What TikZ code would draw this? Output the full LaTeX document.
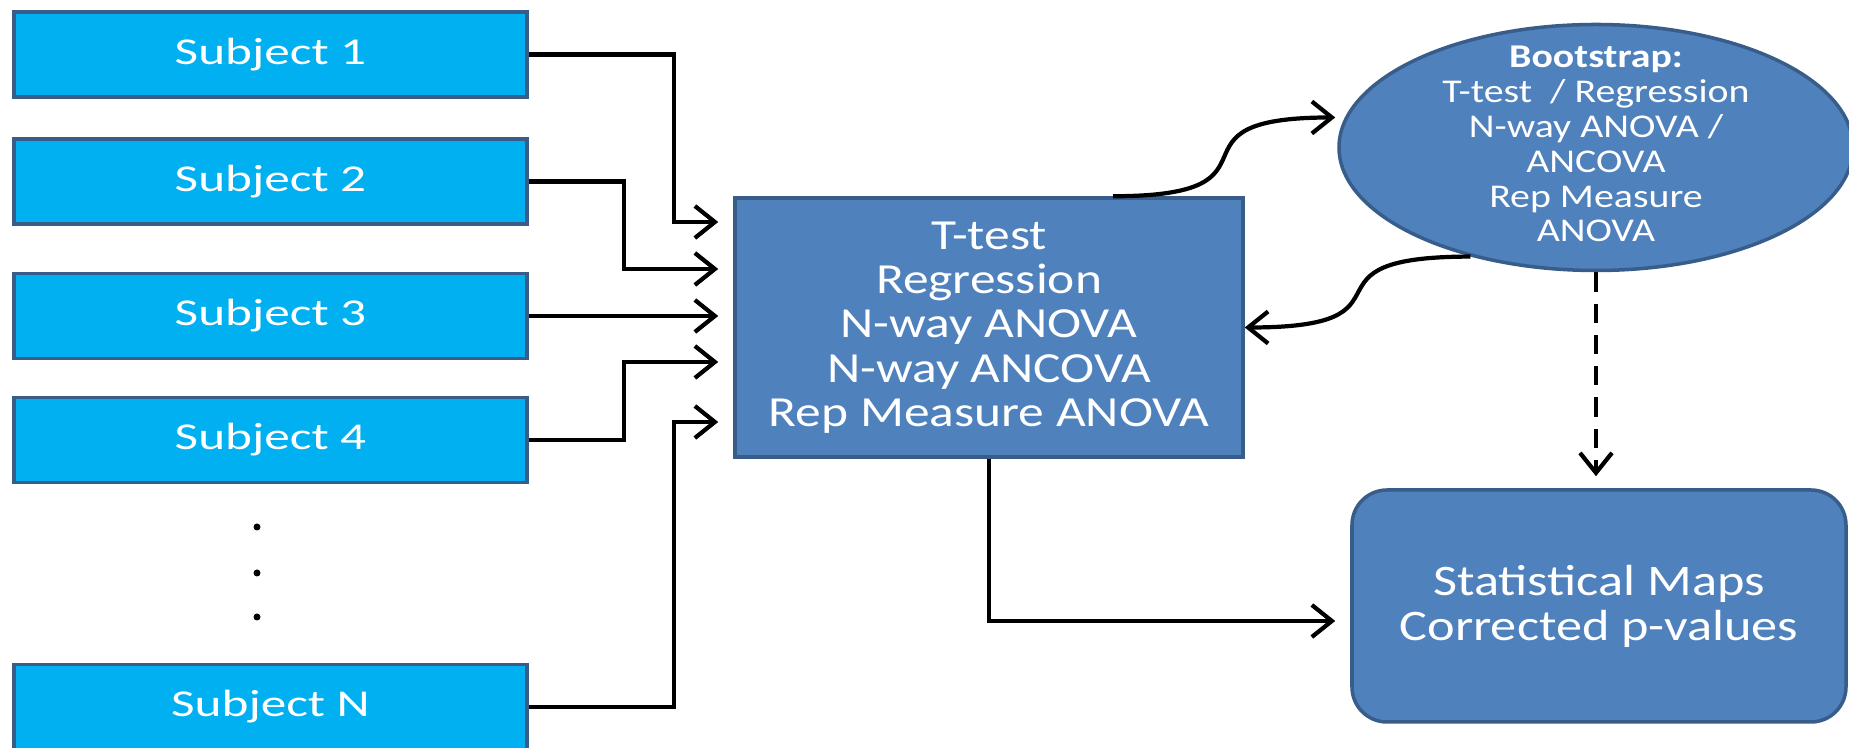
\documentclass[tikz,border=0pt]{standalone}
\usepackage{fontspec}
\setmainfont{Carlito}[FakeStretch=1.2]
\newfontfamily\subjfont{Carlito}[FakeStretch=1.35]
\usepackage{tikz}
\usetikzlibrary{arrows.meta,positioning,calc,shapes.geometric}
\definecolor{subjCyan}{RGB}{0,176,240}
\definecolor{boxEdge}{RGB}{56,93,138}
\definecolor{testBlue}{RGB}{79,129,189}
\tikzset{
  subjbox/.style={rectangle, fill=subjCyan, draw=boxEdge, line width=1pt,
    minimum width=5.13cm, minimum height=0.85cm, text=white,
    font=\subjfont\fontsize{10.8}{12}\selectfont},
  testbox/.style={rectangle, fill=testBlue, draw=boxEdge, line width=1pt,
    minimum width=5.08cm, minimum height=2.59cm, text=white, align=center,
    font=\fontsize{12.2}{12.6}\selectfont},
  bootell/.style={ellipse, fill=testBlue, draw=boxEdge, line width=1pt,
    minimum width=5.14cm, minimum height=2.46cm, inner sep=0pt, text=white,
    font=\fontsize{9.45}{9.9}\selectfont},
  mapbox/.style={rectangle, rounded corners=3.5mm, fill=testBlue, draw=boxEdge,
    line width=1pt, minimum width=4.94cm, minimum height=2.32cm, text=white,
    align=center, font=\fontsize{12.4}{12.8}\selectfont},
  feed/.style={-{Straight Barb[length=2mm,width=3.2mm]}, line width=1.2pt,
    shorten >=1.5mm},
  dashfeed/.style={feed, dash pattern=on 5.5pt off 3.4pt, shorten >=1.2mm},
}

\begin{document}
\begin{tikzpicture}
    \useasboundingbox (0,0) rectangle (18.49,7.48);
    % subjects
    \node[subjbox] (s1) at (2.705,6.935) {Subject 1};
    \node[subjbox] (s2) at (2.705,5.665) {Subject 2};
    \node[subjbox] (s3) at (2.705,4.32) {Subject 3};
    \node[subjbox] (s4) at (2.705,3.08) {Subject 4};
    \node[subjbox] (sN) at (2.705,0.41) {Subject N};
    \foreach \y in {2.21,1.75,1.31} {
      \fill (2.57,\y) circle (0.035);
    }
    % tests
    \node[testbox] (stat) at (9.89,4.205)
      {T-test\\Regression\\N-way ANOVA\\N-way ANCOVA\\Rep Measure ANOVA};
    \node[bootell] (boot) at (15.96,6.005) {\smash{\raisebox{-2.4pt}{%
      \begin{tabular}{@{}c@{}}\textbf{Bootstrap:}\\T-test\ \ / Regression\\
      N-way ANOVA /\\ANCOVA\\Rep Measure\\ANOVA\end{tabular}}}};
    \node[mapbox] (maps) at (15.99,1.42) {Statistical Maps\\Corrected p-values};
    % inputs
    \coordinate (in1) at ([yshift=10.55mm]stat.west);
    \coordinate (in2) at ([yshift=5.85mm]stat.west);
    \coordinate (in3) at (s3.east -| stat.west);
    \coordinate (in4) at ([yshift=-3.45mm]stat.west);
    \coordinate (in5) at ([yshift=-9.45mm]stat.west);
    \draw[feed] (s1.east) -- ++(1.45,0) |- (in1);
    \draw[feed] (s2.east) -- ++(0.95,0) |- (in2);
    \draw[feed] (s3.east) -- (in3);
    \draw[feed] (s4.east) -- ++(0.95,0) |- (in4);
    \draw[feed] (sN.east) -- ++(1.45,0) |- (in5);
    % bootstrap loop
    \draw[feed, shorten >=0.2mm] ([xshift=12.4mm]stat.north)
      to[out=0,in=180,looseness=2] ([yshift=3mm]boot.west);
    \draw[feed, shorten >=0pt] (boot.221)
      to[out=180,in=0,looseness=2] (stat.east);
    \draw[dashfeed] (boot.south) -- (boot.south |- maps.north);
    \draw[feed] (stat.south) |- ([yshift=-1.5mm]maps.west);
\end{tikzpicture}
\end{document}
